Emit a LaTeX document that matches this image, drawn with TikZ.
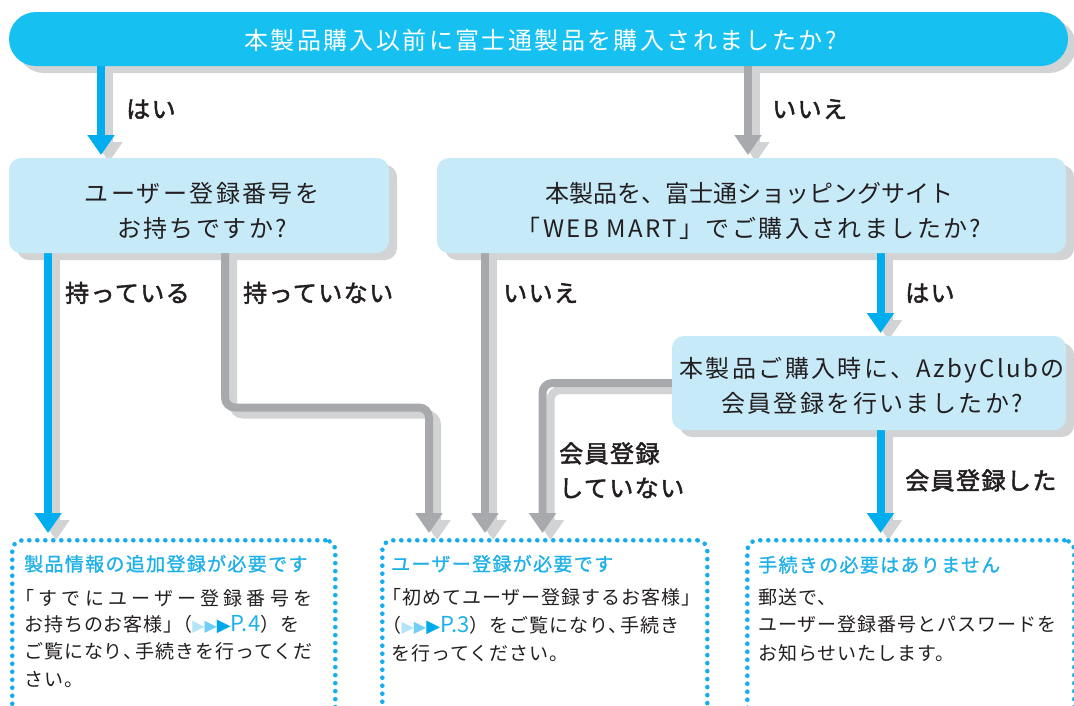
\documentclass[tikz,border=0pt]{standalone}
\usepackage{fontspec}
\usetikzlibrary{arrows.meta,calc}
\newfontfamily\jpbig{Noto Sans CJK JP}[LetterSpace=10]
\newfontfamily\jpnar{Noto Sans CJK JP}
\newfontfamily\jplab{Noto Sans CJK JP}[LetterSpace=6,FakeBold=2]
\newfontfamily\jptit{Noto Sans CJK JP}[LetterSpace=7,FakeBold=1]
\newfontfamily\jpbody{Noto Sans CJK JP}[LetterSpace=5]
\newfontfamily\dvs{DejaVu Sans}
\definecolor{bannerc}{HTML}{16C1F1}
\definecolor{lightc}{HTML}{C7EAF9}
\definecolor{shadowc}{HTML}{D1D3D4}
\definecolor{arrowblue}{HTML}{00AEEF}
\definecolor{arrowgray}{HTML}{A7A9AC}
\definecolor{titleblue}{HTML}{1DB0E9}
\definecolor{dotblue}{HTML}{14AEEB}
\definecolor{textc}{HTML}{231F20}
\definecolor{triA}{HTML}{B5E3F8}
\definecolor{triB}{HTML}{6FCEF3}
\definecolor{triC}{HTML}{00A9EA}
\def\spreadaux#1{\ifx\relax#1\unskip\else#1\hfill\expandafter\spreadaux\fi}
\newcommand\tris{{\dvs\fontsize{16}{16}\selectfont\color{triA}▶\color{triB}▶{\fontsize{18}{18}\selectfont\color{triC}▶}}}
\newcommand\pref[1]{{\jpnar\fontsize{22}{22}\selectfont\color{titleblue}#1}}
\tikzset{
  boxshape/.style={anchor=north west, inner sep=0pt, outer sep=0pt},
  arrbase/.style={line width=8pt, rounded corners=10pt, -{Triangle[width=26pt,length=20pt]}},
  arrblue/.style={arrbase, draw=arrowblue},
  arrgray/.style={arrbase, draw=arrowgray},
  dotbox/.style={anchor=north west, inner sep=0pt, draw=dotblue, line width=4.6pt,
     dash pattern=on 0pt off 8pt, line cap=round, rounded corners=10pt},
  bigtxt/.style={anchor=base, inner sep=0pt, font=\jpbig\fontsize{24}{28}\selectfont, text=textc},
  nartxt/.style={anchor=base, inner sep=0pt, font=\jpnar\fontsize{24}{28}\selectfont, text=textc},
  labtxt/.style={anchor=base west, inner sep=0pt, font=\jplab\fontsize{24}{28}\selectfont, text=textc},
  tittxt/.style={anchor=base west, inner sep=0pt, font=\jptit\fontsize{19}{22}\selectfont, text=titleblue},
  bodytxt/.style={anchor=base west, inner sep=0pt, font=\jpbody\fontsize{19}{22}\selectfont, text=textc},
}
\begin{document}
\begin{tikzpicture}[x=1pt,y=-1pt]
\useasboundingbox (0,0) rectangle (1074,705);
\fill[white] (0,0) rectangle (1074,705);
% shapes (positions only)
\path (9,12) node[boxshape, minimum width=1059pt, minimum height=54pt] (banner) {};
\path (9,158) node[boxshape, minimum width=380pt, minimum height=95pt] (b1) {};
\path (437,158) node[boxshape, minimum width=629pt, minimum height=95pt] (b2) {};
\path (672,336) node[boxshape, minimum width=394pt, minimum height=94pt] (b3) {};
\path (10,538) node[boxshape, minimum width=323pt, minimum height=200pt] (r1) {};
\path (380,538) node[boxshape, minimum width=325pt, minimum height=200pt] (r2) {};
\path (745,538) node[boxshape, minimum width=327pt, minimum height=200pt] (r3) {};
\coordinate (xA1) at (101,0);
\coordinate (xA2) at (748,0);
\coordinate (xA3) at (48,0);
\coordinate (xA4a) at (225,0);
\coordinate (xA4b) at (429,0);
\coordinate (yA4) at (0,407.5);
\coordinate (xA5) at (485,0);
\coordinate (xA6) at (880.5,0);
\coordinate (xA7) at (542.5,0);
% shadows of boxes
\fill[shadowc, rounded corners=27pt] ($(banner.north west)+(8,7)$) rectangle ($(banner.south east)+(8,7)$);
\foreach \n in {b1,b2,b3}
  \fill[shadowc, rounded corners=12pt] ($(\n.north west)+(8,7)$) rectangle ($(\n.south east)+(8,7)$);
% arrows
\def\allarrows#1#2{%
  \draw[#1, shorten >=3pt] (banner.south -| xA1) -- (b1.north -| xA1);
  \draw[#2, shorten >=3pt] (banner.south -| xA2) -- (b2.north -| xA2);
  \draw[#1, shorten >=5pt] (b1.south -| xA3) -- (r1.north -| xA3);
  \draw[#2, shorten >=5pt] (b1.south -| xA4a) -- (xA4a |- yA4) -- (xA4b |- yA4) -- (r2.north -| xA4b);
  \draw[#2, shorten >=5pt] (b2.south -| xA5) -- (r2.north -| xA5);
  \draw[#1, shorten >=3pt] (b2.south -| xA6) -- (b3.north -| xA6);
  \draw[#2, shorten >=5pt] (b3.west) -- (b3.west -| xA7) -- (r2.north -| xA7);
  \draw[#1, shorten >=5pt] (b3.south -| xA6) -- (r3.north -| xA6);
}
\begin{scope}[transform canvas={shift={(8,7)}}]
  \allarrows{arrbase, draw=shadowc}{arrbase, draw=shadowc}
\end{scope}
\allarrows{arrblue}{arrgray}
% boxes
\fill[bannerc, rounded corners=27pt] (banner.north west) rectangle (banner.south east);
\foreach \n in {b1,b2,b3}
  \fill[lightc, rounded corners=12pt] (\n.north west) rectangle (\n.south east);
% box texts
\node[bigtxt, text=white] (tban) at (540.5,49) {本製品購入以前に富士通製品を購入されましたか?};
\node[bigtxt] (t1a) at (202,202) {ユーザー登録番号を};
\node[bigtxt] (t1b) at (202,237) {お持ちですか?};
\node[nartxt] (t2a) at (749,202) {本製品を、富士通ショッピングサイト};
\node[bigtxt] (t2b) at (749,237) {「WEB MART」でご購入されましたか?};
\node[bigtxt] (t3a) at (872,377) {本製品ご購入時に、AzbyClubの};
\node[bigtxt] (t3b) at (872,412) {会員登録を行いましたか?};
% labels
\node[labtxt] (l1) at (126,118) {はい};
\node[labtxt] (l2) at (772,118) {いいえ};
\node[labtxt] (l3) at (65,302) {持っている};
\node[labtxt] (l4) at (243,302) {持っていない};
\node[labtxt] (l5) at (503,302) {いいえ};
\node[labtxt] (l6) at (905,302) {はい};
\node[labtxt] (l7a) at (559,462.5) {会員登録};
\node[labtxt] (l7b) at (559,497) {していない};
\node[labtxt] (l8) at (905,489.5) {会員登録した};
% result boxes
\node[dotbox, minimum width=323pt, minimum height=200pt] (d1) at (10,538) {};
\node[dotbox, minimum width=325pt, minimum height=200pt] (d2) at (380,538) {};
\node[dotbox, minimum width=327pt, minimum height=200pt] (d3) at (745,538) {};
\node[tittxt] (r1t) at (24,571) {製品情報の追加登録が必要です};
\node[bodytxt] (r1a) at (24,605) {\hbox to 288pt{\kern-.45em\spreadaux「すでにユーザー登録番号を\relax}};
\node[bodytxt] (r1b) at (24,631) {お持ちのお客様」\kern-.5em（\tris\pref{P.4}）を};
\node[bodytxt] (r1c) at (24,658) {ご覧になり、\kern-.35em 手続きを行ってくだ};
\node[bodytxt] (r1d) at (24,686) {さい。};
\node[tittxt] (r2t) at (391,571) {ユーザー登録が必要です};
\node[bodytxt] (r2a) at (391,604) {\kern-.45em「初めてユーザー登録するお客様」};
\node[bodytxt] (r2b) at (391,632) {\kern-.45em（\tris\pref{P.3}）をご覧になり、\kern-.35em 手続き};
\node[bodytxt] (r2c) at (391,660) {を行ってください。};
\node[tittxt] (r3t) at (758,572) {手続きの必要はありません};
\node[bodytxt] (r3a) at (758,604) {郵送で、};
\node[bodytxt] (r3b) at (758,631.5) {ユーザー登録番号とパスワードを};
\node[bodytxt] (r3c) at (758,660) {お知らせいたします。};
\end{tikzpicture}
\end{document}
